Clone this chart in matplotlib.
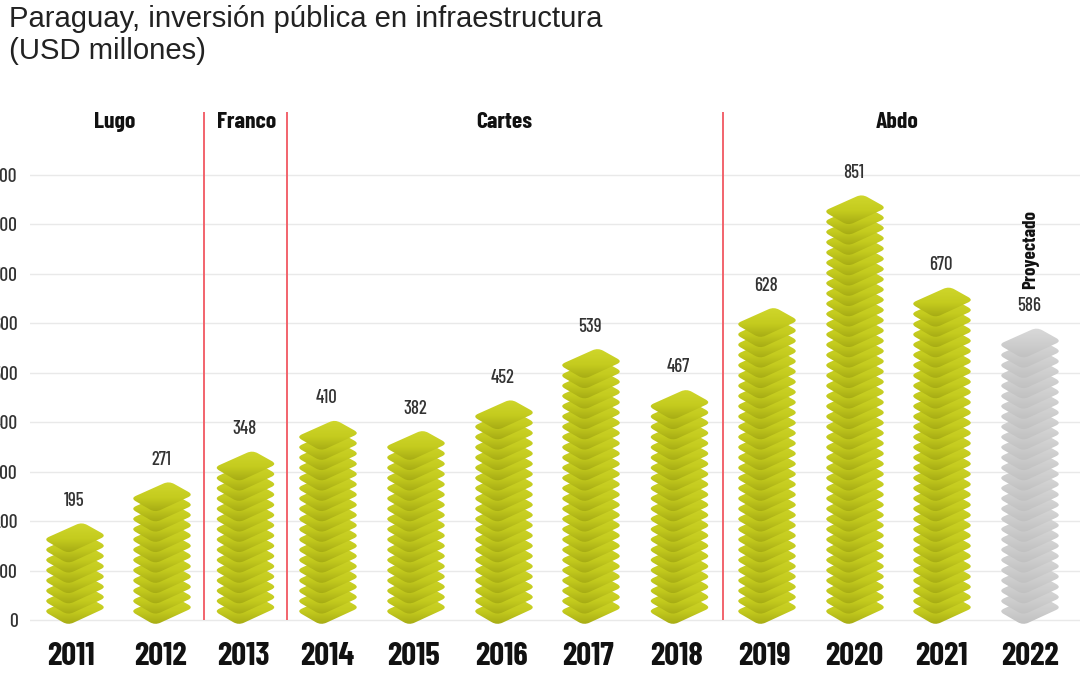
import numpy as np
import matplotlib
matplotlib.use("Agg")
import matplotlib.pyplot as plt
from matplotlib.path import Path

years = ["2011","2012","2013","2014","2015","2016","2017","2018","2019","2020","2021","2022"]
values = [195,271,348,410,382,452,539,467,628,851,670,586]
layers = [8,12,15,18,17,20,25,21,29,40,31,27]
periods = ["Lugo","Franco","Cartes","Abdo"]
yticks = [0,100,200,300,400,500,600,700,800,900]
projected = "2022"
title = "Paraguay, inversión pública en infraestructura\n(USD millones)"

# layout (pixels of the 1080x675 canvas)
W,H = 1080,675
bar_x = [75,162,245.5,328,416,504,591,679.5,767,855,942,1030]
label_x = [71,160,243,327,414,501,588,677,764,854,941,1030]
sep_x = [203.5,286.5,723]
period_x = [115,247,504,897]
PX = (620-175)/900   # px per unit
PT = 72/100          # points per px
BELOW = 10           # px of axes below the zero line, so the stacks' lowest tips are not cut
NARROW = ["Barlow Condensed","Liberation Sans","DejaVu Sans"]

fig = plt.figure(figsize=(W/100,H/100),dpi=100,facecolor="white")
ax = fig.add_axes([30/W,(H-620-BELOW)/H,(W-30)/W,(508+BELOW)/H])
ymax = 508/PX
ax.set_axisbelow(True)
for s in ax.spines.values(): s.set_visible(False)
ax.yaxis.grid(True,color="#e9e9e9",lw=1.0)
ax.xaxis.grid(False)
ax.set_yticks(yticks)
ax.set_yticklabels([str(v) for v in yticks],family=NARROW,fontsize=14,fontweight=500,color="#333333")
ax.set_xticks(label_x)
ax.set_xticklabels(years,family=NARROW,fontsize=23.5,fontweight=700,color="#111111")
ax.tick_params(axis="y",length=0,pad=9)
ax.tick_params(axis="x",length=0,pad=8.5)

def rounded(pts,trim):
    verts,codes=[],[]
    n=len(pts)
    for i in range(n):
        p=np.array(pts[i],float); a=np.array(pts[i-1],float); b=np.array(pts[(i+1)%n],float)
        la=p+(a-p)*trim/np.linalg.norm(a-p); lb=p+(b-p)*trim/np.linalg.norm(b-p)
        verts+= [la,p,lb]
        codes+= [Path.MOVETO if i==0 else Path.LINETO,Path.CURVE3,Path.CURVE3]
    verts.append(verts[0]); codes.append(Path.CLOSEPOLY)
    return np.array(verts),codes

shape_px = [(-7,-1.2),(31.5,16.5),(7,30.2),(-31.5,13)]
DH = 29.0
STEP = 10.25
def grad_img(top,mid,bot):
    ys=np.linspace(0,1,64)
    c=np.array([top,mid,bot],float)/255
    return np.stack([np.interp(ys,[0,0.55,1],c[:,k]) for k in range(3)],axis=1)[:,None,:]
g_yel=grad_img((208,215,44),(196,203,30),(165,170,20))
g_gry=grad_img((218,218,218),(205,205,205),(192,192,192))
vs,codes=rounded(shape_px,6.0)

for year,v,n,cx in zip(years,values,layers,bar_x):
    img=g_gry if year==projected else g_yel
    for i in range(n):
        base=-4+i*STEP   # px above the axis line of the layer's lowest point
        path=Path(np.column_stack([cx+vs[:,0],(base+vs[:,1])/PX]),codes)
        im=ax.imshow(img,extent=(cx-34,cx+34,(base-1)/PX,(base+DH+1)/PX),aspect="auto",
                     interpolation="bilinear",zorder=3,origin="upper")
        im.set_clip_path(path,ax.transData)
    top=base+DH
    ax.annotate(str(v),(cx-1,top/PX),xytext=(0,22.5*PT),textcoords="offset points",ha="center",va="center",
                family=NARROW,fontsize=13.5,fontweight=500,color="#333333",zorder=5,annotation_clip=False)
    if year==projected:
        ax.text(cx+1,(620-249.5)/PX,"Proyectado",ha="center",va="center",rotation=90,family=NARROW,
                fontsize=13.7,fontweight="bold",color="#111111",zorder=5)

for x in sep_x:
    ax.plot([x,x],[0,ymax],color="#f2636c",lw=1.4,zorder=4,solid_capstyle="butt")
for name,x in zip(periods,period_x):
    ax.text(x,(620-122)/PX,name,ha="center",va="center",family=NARROW,fontsize=17,
            fontweight="bold",color="#111111",clip_on=False)

ax.set_xlim(30,1080)
ax.set_ylim(-BELOW/PX,ymax)
ax.set_autoscale_on(False)

fig.text(9/W,1-35/H,title,family=["Liberation Sans","DejaVu Sans"],fontsize=21.05,color="#222222",
         ha="left",va="center",linespacing=1.15)
fig.savefig("out.png",dpi=100)
